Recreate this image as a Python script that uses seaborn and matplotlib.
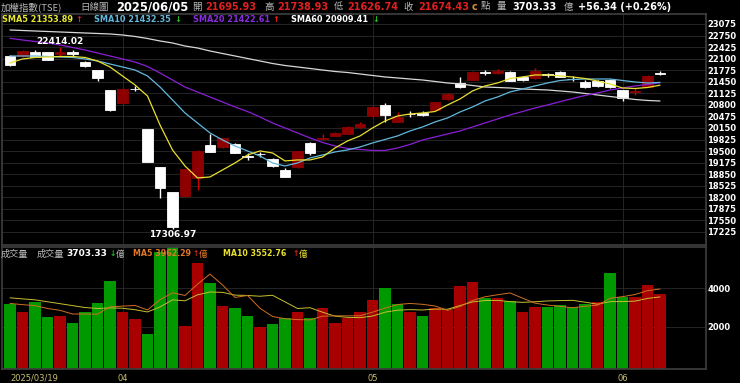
import numpy as np
import pandas as pd
import seaborn as sns
import matplotlib.pyplot as plt

# TAIEX daily candles, 2025/03/19 - 2025/06/05
dates = ["2025-03-19", "2025-03-20", "2025-03-21", "2025-03-24", "2025-03-25", "2025-03-26",
         "2025-03-27", "2025-03-28", "2025-03-31", "2025-04-01", "2025-04-02", "2025-04-07",
         "2025-04-08", "2025-04-09", "2025-04-10", "2025-04-11", "2025-04-14", "2025-04-15",
         "2025-04-16", "2025-04-17", "2025-04-18", "2025-04-21", "2025-04-22", "2025-04-23",
         "2025-04-24", "2025-04-25", "2025-04-28", "2025-04-29", "2025-04-30", "2025-05-02",
         "2025-05-05", "2025-05-06", "2025-05-07", "2025-05-08", "2025-05-09", "2025-05-12",
         "2025-05-13", "2025-05-14", "2025-05-15", "2025-05-16", "2025-05-19", "2025-05-20",
         "2025-05-21", "2025-05-22", "2025-05-23", "2025-05-26", "2025-05-27", "2025-05-28",
         "2025-05-29", "2025-06-02", "2025-06-03", "2025-06-04", "2025-06-05"]

opens = [22175, 22175, 22296, 22288, 22231, 22274, 22015, 21781, 21219, 20845,
         21260, 20122, 19045, 18342, 18247, 18736, 19672, 19608, 19700, 19360,
         19420, 19279, 18969, 19040, 19720, 19833, 19934, 19982, 20170, 20488,
         20797, 20328, 20545, 20560, 20657, 20957, 21424, 21500, 21730, 21700,
         21734, 21593, 21548, 21660, 21717, 21540, 21436, 21472, 21500, 21219,
         21150, 21312, 21695.93]
highs = [22203, 22344, 22330, 22300, 22414.02, 22344, 22030, 21790, 21230, 21267,
         21332, 20130, 19060, 18360, 19000, 19530, 19982, 19880, 19720, 19440,
         19480, 19300, 19030, 19500, 19760, 19982, 20040, 20200, 20328, 20760,
         20862, 20592, 20620, 20640, 20890, 21144, 21576, 21760, 21790, 21800,
         21750, 21620, 21829, 21700, 21760, 21600, 21500, 21500, 21520, 21230,
         21267, 21640, 21738.93]
lows = [21894, 22147, 22140, 22050, 22175, 22175, 21857, 21481, 20640, 20830,
        21190, 19180, 18174, 17306.97, 18220, 18407, 19470, 19590, 19440, 19260,
        19340, 19060, 18770, 19020, 19391, 19820, 19920, 19970, 20160, 20470,
        20328, 20310, 20450, 20480, 20640, 20940, 21280, 21490, 21650, 21680,
        21460, 21470, 21540, 21590, 21580, 21480, 21280, 21290, 21280, 20910,
        21078, 21300, 21626.74]
closes = [21922, 22316, 22155, 22063, 22288, 22245, 21902, 21548, 20657, 21239,
          21247, 19203, 18455, 17375, 18989, 19504, 19484, 19861, 19456, 19344,
          19411, 19082, 18781, 19490, 19456, 19878, 20018, 20188, 20255, 20750,
          20516, 20469, 20536, 20525, 20873, 21098, 21295, 21734, 21705, 21760,
          21472, 21500, 21753, 21641, 21593, 21528, 21295, 21320, 21300, 20985,
          21180, 21618.09, 21674.43]
prev_close = 22020  # close of 2025/03/18, colours the first volume bar

sma5 = [21978, 22091, 22133, 22147, 22161, 22161, 22133, 22035, 21866, 21613,
        21360, 21050, 20235, 19532, 19082, 18745, 18773, 18970, 19166, 19391,
        19504, 19448, 19223, 19251, 19251, 19335, 19588, 19785, 19926, 20151,
        20347, 20488, 20544, 20572, 20614, 20797, 20966, 21191, 21332, 21416,
        21542, 21585, 21641, 21641, 21613, 21585, 21542, 21472, 21388, 21275,
        21261, 21289, 21353.89]
sma10 = [22175, 22175, 22175, 22161, 22147, 22133, 22091, 22035, 21950, 21866,
         21781, 21613, 21303, 20938, 20572, 20291, 20010, 19813, 19644, 19504,
         19363, 19166, 19082, 19166, 19307, 19391, 19476, 19532, 19616, 19729,
         19827, 19926, 20066, 20179, 20319, 20432, 20600, 20741, 20910, 21022,
         21163, 21247, 21332, 21416, 21486, 21514, 21528, 21528, 21528, 21486,
         21444, 21416, 21432.35]
sma20 = [22673, 22625, 22583, 22541, 22484, 22414, 22344, 22260, 22175, 22091,
         22006, 21880, 21697, 21500, 21303, 21163, 21022, 20882, 20741, 20614,
         20460, 20291, 20151, 20010, 19869, 19743, 19644, 19574, 19546, 19518,
         19518, 19588, 19687, 19813, 19897, 19982, 20066, 20179, 20291, 20404,
         20516, 20614, 20713, 20797, 20890, 20980, 21064, 21135, 21219, 21275,
         21332, 21374, 21422.61]
sma60 = [22906, 22892, 22878, 22864, 22850, 22836, 22822, 22808, 22794, 22766,
         22724, 22667, 22597, 22541, 22456, 22400, 22316, 22245, 22175, 22105,
         22035, 21964, 21908, 21866, 21824, 21781, 21739, 21711, 21669, 21627,
         21585, 21557, 21528, 21500, 21458, 21416, 21388, 21345, 21303, 21289,
         21275, 21247, 21233, 21219, 21191, 21163, 21121, 21078, 21036, 20994,
         20952, 20924, 20909.41]

# volume in 億
volumes = [3161, 2776, 3299, 2483, 2552, 2205, 2776, 3247, 4392, 2743,
           2378, 1615, 5900, 6200, 2047, 5297, 4255, 3073, 2953, 2552,
           1979, 2120, 2464, 2743, 2464, 2953, 2205, 2464, 2776, 3385,
           3995, 3161, 2743, 2552, 2953, 2865, 4130, 4339, 3505, 3474,
           3349, 2776, 3036, 3005, 3125, 3005, 3161, 3297, 4807, 3557,
           3557, 4167, 3703.33]
vol_ma5 = [3213, 3150, 3100, 2950, 2854, 2663, 2663, 2653, 3034, 3073,
           3107, 2875, 3406, 3767, 3628, 4212, 4740, 4174, 3525, 3626,
           2962, 2535, 2414, 2372, 2354, 2549, 2566, 2566, 2572, 2757,
           2965, 3156, 3212, 3167, 3081, 2855, 3049, 3368, 3558, 3663,
           3759, 3489, 3228, 3128, 3058, 2989, 3066, 3119, 3479, 3565,
           3676, 3877, 3962.29]
vol_ma10 = [3505, 3450, 3400, 3300, 3200, 3100, 3000, 2950, 2980, 2963,
            2885, 2769, 3029, 3401, 3350, 3660, 3807, 3790, 3646, 3627,
            3587, 3638, 3294, 2948, 2990, 2756, 2551, 2490, 2472, 2555,
            2757, 2861, 2889, 2870, 2919, 2910, 3102, 3290, 3363, 3372,
            3307, 3269, 3298, 3343, 3360, 3374, 3278, 3173, 3304, 3312,
            3333, 3472, 3552.76]

df = pd.DataFrame({"date": pd.to_datetime(dates), "open": opens, "high": highs,
                   "low": lows, "close": closes, "volume": volumes})
df["x"] = np.arange(len(df))
df["prev"] = df["close"].shift(1).fillna(prev_close)

UP_BODY, UP_WICK = "#8e0000", "#d00000"
DOWN = "#ffffff"
VOL_UP, VOL_DOWN = "#a80000", "#009a00"
GRID = "#2b2b2b"
W, H = 740, 383

sns.set_theme(style="dark", rc={"axes.facecolor": "black", "figure.facecolor": "black",
                                "axes.edgecolor": "#3c3c3c", "axes.grid": False})
plt.rcParams["font.family"] = ["DejaVu Sans", "Noto Sans CJK TC"]

fig = plt.figure(figsize=(W / 100, H / 100), dpi=100)
ax = fig.add_axes([2 / W, 1 - 245 / H, 704 / W, 231 / H])
ax2 = fig.add_axes([2 / W, 1 - 369 / H, 704 / W, 122 / H], sharex=ax)

# ---- price panel
price_ticks = np.arange(17225, 23076, 325)
for t in price_ticks:
    ax.axhline(t, color=GRID, lw=0.6, zorder=0)
month_starts = [i for i in range(1, len(df)) if df["date"][i].month != df["date"][i - 1].month]
for m in month_starts:
    ax.axvline(m, color=GRID, lw=0.6, zorder=0)
    ax2.axvline(m, color=GRID, lw=0.6, zorder=0)

up = df["close"] > df["open"]
body_col = np.where(up, UP_BODY, DOWN)
wick_col = np.where(up, UP_WICK, DOWN)
ax.vlines(df["x"], df["low"], df["high"], colors=wick_col, lw=1.0, zorder=1)
ax.bar(df["x"], (df["close"] - df["open"]).abs(), bottom=df[["open", "close"]].min(axis=1),
       width=0.86, color=body_col, edgecolor=body_col, linewidth=0.6, zorder=2)

for vals, col in [(sma60, "#d8d8d8"), (sma20, "#8a1fd6"), (sma10, "#62b8dc"), (sma5, "#e8e030")]:
    sns.lineplot(x=df["x"], y=vals, ax=ax, color=col, linewidth=0.9, zorder=3)

hi = df["high"].idxmax()
lo = df["low"].idxmin()
ax.text(hi, df["high"][hi] + 40, f"{df['high'][hi]:.2f}", color="white", fontsize=6.5,
        fontweight="bold", ha="center", va="bottom")
ax.text(lo, df["low"][lo] - 40, f"{df['low'][lo]:.2f}", color="white", fontsize=6.5,
        fontweight="bold", ha="center", va="top")

ax.set_ylim(16859, 23356)
ax.set_xlim(-0.64, 55.68)
ax.yaxis.tick_right()
ax.set_yticks(price_ticks)
ax.set_yticklabels([str(t) for t in price_ticks], color="white", fontsize=6, fontweight="bold")
ax.tick_params(axis="y", length=0, pad=1)
ax.tick_params(axis="x", bottom=False, labelbottom=False)
ax.set_xlabel("")
ax.set_ylabel("")

# ---- volume panel
vol_floor = -200
vcol = np.where(df["close"] >= df["prev"], VOL_UP, VOL_DOWN)
ax2.axhline(2000, color=GRID, lw=0.6, zorder=0)
ax2.axhline(4000, color=GRID, lw=0.6, zorder=0)
ax2.bar(df["x"], df["volume"] - vol_floor, bottom=vol_floor, width=0.93, color=vcol,
        linewidth=0, zorder=1)
sns.lineplot(x=df["x"], y=vol_ma10, ax=ax2, color="#c8c030", linewidth=0.7, zorder=2)
sns.lineplot(x=df["x"], y=vol_ma5, ax=ax2, color="#d07020", linewidth=0.7, zorder=2)
ax2.set_ylim(vol_floor, 6150)
ax2.yaxis.tick_right()
ax2.set_yticks([2000, 4000])
ax2.set_yticklabels(["2000", "4000"], color="white", fontsize=6, fontweight="bold")
ax2.tick_params(axis="y", length=0, pad=1)
xt = [0] + month_starts
xl = [df["date"][0].strftime("%Y/%m/%d")] + [df["date"][m].strftime("%m") for m in month_starts]
ax2.set_xticks(xt)
ax2.set_xticklabels(xl, color="#c8c070", fontsize=6)
ax2.tick_params(axis="x", length=3, color="#a0a060", pad=0.5)
ax2.get_xticklabels()[0].set_horizontalalignment("left")
ax2.get_xticklabels()[0].set_x(-0.5)
ax2.set_xlabel("")
ax2.set_ylabel("")


def put(x, y, s, color, size=7, bold=True, cjk=False):
    fam = ["Noto Sans CJK TC", "DejaVu Sans"] if cjk else ["DejaVu Sans", "Noto Sans CJK TC"]
    fig.text(x / W, 1 - y / H, s, color=color, fontsize=size, family=fam,
             fontweight="bold" if bold else "normal", ha="left", va="center")


GRAY = "#b8b8b8"
RED = "#e02020"
last = df.iloc[-1]
chg = last["close"] - df["close"].iloc[-2]
put(1, 7, "加權指數(TSE)", GRAY, 6.8, False, True)
put(80, 7, "日線圖", GRAY, 6.8, False, True)
put(116, 7, df["date"].iloc[-1].strftime("%Y/%m/%d"), "white", 8.3)
put(192, 7, "開", GRAY, 6.8, False, True)
put(205, 7, f"{last['open']:.2f}", RED, 7)
put(264, 7, "高", GRAY, 6.8, False, True)
put(277, 7, f"{last['high']:.2f}", RED, 7)
put(334, 7, "低", GRAY, 6.8, False, True)
put(347, 7, f"{last['low']:.2f}", RED, 7)
put(403, 7, "收", GRAY, 6.8, False, True)
put(418, 7, f"{last['close']:.2f}", RED, 7)
put(472, 7, "c", "#d09040", 7)
put(481, 7, "點", GRAY, 6.8, False, True)
put(497, 7, "量", GRAY, 6.8, False, True)
put(512, 7, f"{last['volume']:.2f}", "white", 7)
put(564, 7, "億", GRAY, 6.8, False, True)
put(578, 7, f"+{chg:.2f} (+{chg / df['close'].iloc[-2] * 100:.2f}%)", "white", 7)

put(2, 19, f"SMA5 {sma5[-1]:.2f}", "#e8e830", 5.9)
put(75, 19, "↑", RED, 6)
put(94, 19, f"SMA10 {sma10[-1]:.2f}", "#62b8dc", 5.9)
put(174, 19, "↓", "#20c020", 6)
put(193, 19, f"SMA20 {sma20[-1]:.2f}", "#8a2be2", 5.9)
put(272, 19, "↑", RED, 6)
put(291, 19, f"SMA60 {sma60[-1]:.2f}", "white", 5.9)
put(372, 19, "↓", "#20c020", 6)

put(1, 254, "成交量", GRAY, 6.6, False, True)
put(37, 254, "成交量", GRAY, 6.6, False, True)
put(66, 254, f"{volumes[-1]:.2f}", "white", 6.5)
put(110, 254, "↓", "#20c020", 5.5)
put(116, 254, "億", GRAY, 6.2, False, True)
put(133, 254, f"MA5 {vol_ma5[-1]:.2f}", "#e07828", 5.7)
put(193, 254, "↑", RED, 5.5)
put(199, 254, "億", "#e07828", 6.2, False, True)
put(223, 254, f"MA10 {vol_ma10[-1]:.2f}", "#e8e030", 5.7)
put(293, 254, "↑", RED, 5.5)
put(299, 254, "億", "#e8e030", 6.2, False, True)

fig.savefig("out.png", dpi=100, facecolor="black")
